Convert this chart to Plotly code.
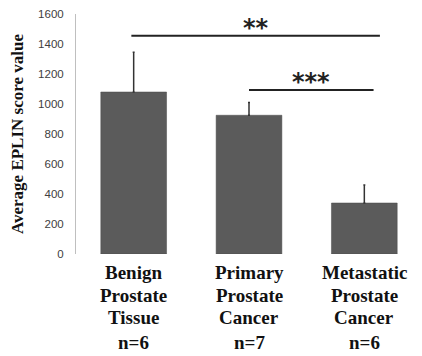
import plotly.graph_objects as go

categories = ["Benign Prostate Tissue", "Primary Prostate Cancer", "Metastatic Prostate Cancer"]
label_lines = [["Benign", "Prostate", "Tissue", "n=6"],
               ["Primary", "Prostate", "Cancer", "n=7"],
               ["Metastatic", "Prostate", "Cancer", "n=6"]]
means = [1080, 925, 340]
errors_up = [265, 85, 120]
y_ticks = [0, 200, 400, 600, 800, 1000, 1200, 1400, 1600]

sig_pairs = [(0, 2, 1455, "**"), (1, 2, 1093, "***")]

xs = [0, 1, 2]
fig = go.Figure()
fig.add_trace(go.Bar(
    x=xs, y=means, width=0.57,
    marker=dict(color="#5b5b5b", line=dict(color="#4a4a4a", width=0.5)),
    error_y=dict(type="data", array=errors_up, arrayminus=[0, 0, 0], symmetric=False,
                 color="#333333", thickness=1.5, width=1),
))

serif = "Liberation Serif, Times New Roman, serif"
for (a, b, yv, txt) in sig_pairs:
    x0 = a - 0.02 if a == 0 else a
    x1 = b + 0.135 if a == 0 else b + 0.08
    fig.add_shape(type="line", x0=x0, x1=x1, y0=yv, y1=yv, xref="x", yref="y",
                  line=dict(color="#222222", width=2))
    fig.add_annotation(x=(x0 + x1) / 2, y=yv, text="<b>%s</b>" % txt, showarrow=False,
                       yanchor="middle", yshift=8,
                       font=dict(family="DejaVu Sans", size=24, color="#222222"))

offsets = [-18, -41, -63, -88]
for i, lines in enumerate(label_lines):
    for j, line in enumerate(lines):
        fig.add_annotation(x=xs[i], y=0, yref="paper", xref="x", text="<b>%s</b>" % line,
                           showarrow=False, yanchor="middle", yshift=offsets[j],
                           font=dict(family=serif, size=19, color="#111111"))

fig.update_layout(
    width=414, height=348,
    margin=dict(l=68, r=0, t=6, b=102, autoexpand=False),
    paper_bgcolor="white", plot_bgcolor="white",
    showlegend=False,
    xaxis=dict(range=[-0.5, 2.5], showticklabels=False, showline=False, showgrid=False,
               zeroline=False, ticks=""),
    yaxis=dict(range=[0, 1600], tickvals=y_ticks, showgrid=False, zeroline=False,
               showline=True, linecolor="#bfbfbf", linewidth=1, ticks="outside",
               ticklen=9, tickcolor="rgba(0,0,0,0)",
               tickfont=dict(family="Liberation Sans, Arial", size=11.5, color="#404040"),
               title=dict(text="<b>Average EPLIN score value</b>", standoff=12,
                          font=dict(family=serif, size=17, color="#111111"))),
)

fig.write_html("out.html")
